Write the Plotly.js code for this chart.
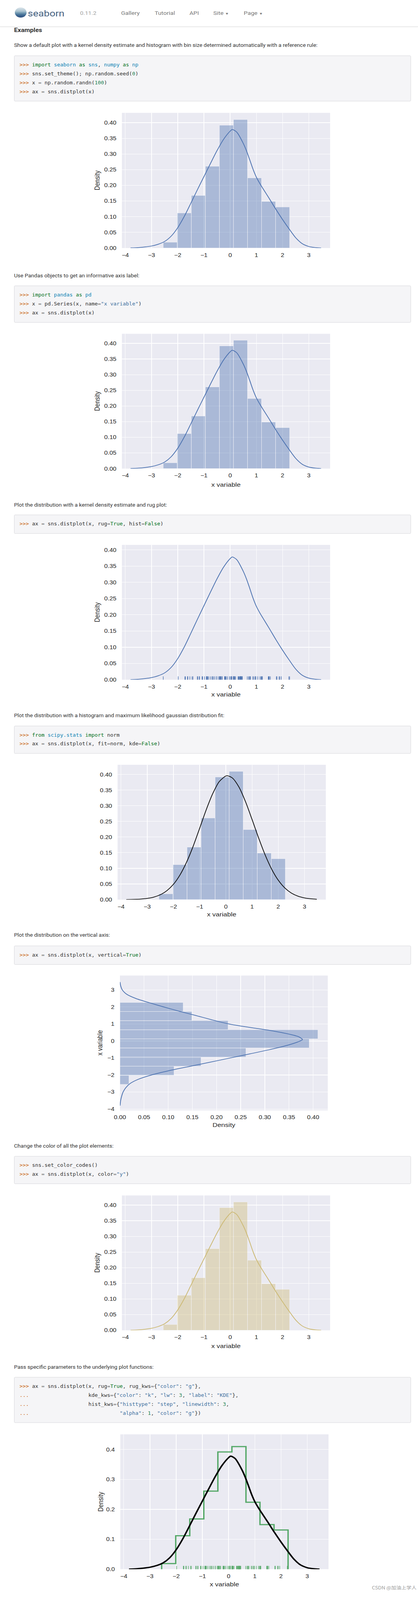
<!DOCTYPE html>
<html><head><meta charset="utf-8">
<script src="https://cdn.plot.ly/plotly-3.0.1.min.js"></script>
<style>
html,body{margin:0;background:#fff;overflow:hidden;}
#page{position:relative;width:1070px;height:4715px;overflow:hidden;font-family:Roboto,"Helvetica Neue",Arial,sans-serif;color:#333;background:#fff;transform-origin:0 0;}
.nav{position:absolute;left:0;top:0;width:1070px;height:78px;border-bottom:1px solid #d8d8d8;box-shadow:0 1px 3px rgba(0,0,0,0.18);background:#fff;z-index:2;}
.logo{position:absolute;left:38px;top:22px;width:30px;height:30px;border-radius:50%;background:linear-gradient(to bottom,#dde6ec 0%,#a9c2cf 38%,#6f97b0 55%,#3f6a93 75%,#2f4f7f 100%);}
.brand{position:absolute;left:71px;top:22px;font-size:26px;line-height:34px;color:#44607f;}
.ver{position:absolute;left:205px;top:28px;font-size:15px;line-height:22px;color:#a0a0a0;}
.nl{position:absolute;top:28px;font-size:15.5px;line-height:22px;color:#777;}
.h{position:absolute;left:36px;top:77px;font-size:16.5px;line-height:24px;font-weight:bold;color:#333;z-index:3;}
.p{position:absolute;left:36px;font-size:14px;line-height:20px;white-space:nowrap;color:#333;}
.code{position:absolute;left:36px;width:988px;padding:13.5px 13px;border:1px solid #d4d4d8;border-radius:3px;background:#f5f5f7;font-family:"DejaVu Sans Mono",monospace;font-size:13.3px;line-height:26.5px;white-space:pre;color:#333;}
.gp{color:#c65d09;} .kn{color:#007020;} .nn{color:#0e84b5;} .mi{color:#208050;} .s2{color:#4070a0;} .o{color:#666;} .kc{color:#007020;}
.plot{position:absolute;}
.wm{position:absolute;left:952px;top:4677px;font-family:"Noto Sans CJK SC","Noto Sans",sans-serif;font-size:13px;line-height:18px;color:#9a9a9a;white-space:nowrap;}
</style></head>
<body>
<div id="page">
  <div class="nav">
    <div class="logo"></div>
    <div class="brand">seaborn</div>
    <div class="ver">0.11.2</div>
    <div class="nl" style="left:310px">Gallery</div>
    <div class="nl" style="left:396px">Tutorial</div>
    <div class="nl" style="left:485px">API</div>
    <div class="nl" style="left:546px">Site <span style="font-size:10px">&#9660;</span></div>
    <div class="nl" style="left:624px">Page <span style="font-size:10px">&#9660;</span></div>
  </div>
  <div class="h">Examples</div>

  <div class="p" style="top:123px">Show a default plot with a kernel density estimate and histogram with bin size determined automatically with a reference rule:</div>
  <div class="code" style="top:164px"><span class="gp">&gt;&gt;&gt; </span><span class="kn">import</span> <span class="nn">seaborn</span> <span class="kn">as</span> <span class="nn">sns</span>, <span class="nn">numpy</span> <span class="kn">as</span> <span class="nn">np</span>
<span class="gp">&gt;&gt;&gt; </span>sns.set_theme(); np.random.seed(<span class="mi">0</span>)
<span class="gp">&gt;&gt;&gt; </span>x <span class="o">=</span> np.random.randn(<span class="mi">100</span>)
<span class="gp">&gt;&gt;&gt; </span>ax <span class="o">=</span> sns.distplot(x)</div>
  <div id="plot1" class="plot"></div>

  <div class="p" style="top:803px">Use Pandas objects to get an informative axis label:</div>
  <div class="code" style="top:843px"><span class="gp">&gt;&gt;&gt; </span><span class="kn">import</span> <span class="nn">pandas</span> <span class="kn">as</span> <span class="nn">pd</span>
<span class="gp">&gt;&gt;&gt; </span>x <span class="o">=</span> pd.Series(x, name<span class="o">=</span><span class="s2">"x variable"</span>)
<span class="gp">&gt;&gt;&gt; </span>ax <span class="o">=</span> sns.distplot(x)</div>
  <div id="plot2" class="plot"></div>

  <div class="p" style="top:1480px">Plot the distribution with a kernel density estimate and rug plot:</div>
  <div class="code" style="top:1519px"><span class="gp">&gt;&gt;&gt; </span>ax <span class="o">=</span> sns.distplot(x, rug<span class="o">=</span><span class="kc">True</span>, hist<span class="o">=</span><span class="kc">False</span>)</div>
  <div id="plot3" class="plot"></div>

  <div class="p" style="top:2102px">Plot the distribution with a histogram and maximum likelihood gaussian distribution fit:</div>
  <div class="code" style="top:2142px"><span class="gp">&gt;&gt;&gt; </span><span class="kn">from</span> <span class="nn">scipy.stats</span> <span class="kn">import</span> norm
<span class="gp">&gt;&gt;&gt; </span>ax <span class="o">=</span> sns.distplot(x, fit<span class="o">=</span>norm, kde<span class="o">=</span><span class="kc">False</span>)</div>
  <div id="plot4" class="plot"></div>

  <div class="p" style="top:2750px">Plot the distribution on the vertical axis:</div>
  <div class="code" style="top:2791px"><span class="gp">&gt;&gt;&gt; </span>ax <span class="o">=</span> sns.distplot(x, vertical<span class="o">=</span><span class="kc">True</span>)</div>
  <div id="plot5" class="plot"></div>

  <div class="p" style="top:3372px">Change the color of all the plot elements:</div>
  <div class="code" style="top:3412px"><span class="gp">&gt;&gt;&gt; </span>sns.set_color_codes()
<span class="gp">&gt;&gt;&gt; </span>ax <span class="o">=</span> sns.distplot(x, color<span class="o">=</span><span class="s2">"y"</span>)</div>
  <div id="plot6" class="plot"></div>

  <div class="p" style="top:4024px">Pass specific parameters to the underlying plot functions:</div>
  <div class="code" style="top:4064px"><span class="gp">&gt;&gt;&gt; </span>ax <span class="o">=</span> sns.distplot(x, rug<span class="o">=</span><span class="kc">True</span>, rug_kws<span class="o">=</span>{<span class="s2">"color"</span>: <span class="s2">"g"</span>},
<span class="gp">... </span>                  kde_kws<span class="o">=</span>{<span class="s2">"color"</span>: <span class="s2">"k"</span>, <span class="s2">"lw"</span>: <span class="mi">3</span>, <span class="s2">"label"</span>: <span class="s2">"KDE"</span>},
<span class="gp">... </span>                  hist_kws<span class="o">=</span>{<span class="s2">"histtype"</span>: <span class="s2">"step"</span>, <span class="s2">"linewidth"</span>: <span class="mi">3</span>,
<span class="gp">... </span>                            <span class="s2">"alpha"</span>: <span class="mi">1</span>, <span class="s2">"color"</span>: <span class="s2">"g"</span>})</div>
  <div id="plot7" class="plot"></div>

  <div class="wm">CSDN @加油上学人</div>
</div>

<script>
// ---------- data ----------
const binEdges = [-2.553, -2.017, -1.481, -0.945, -0.409, 0.127, 0.663, 1.198, 1.734, 2.270];
const histDensity = [0.0187, 0.112, 0.168, 0.261, 0.392, 0.410, 0.224, 0.149, 0.131];

const kdeX = [-3.8, -3.5, -3.25, -3.0, -2.75, -2.5, -2.25, -2.0, -1.75, -1.5, -1.25, -1.0, -0.75, -0.5, -0.25, 0.0, 0.08, 0.25, 0.5, 0.625, 0.75, 0.875, 1.0, 1.125, 1.25, 1.5, 1.75, 2.0, 2.25, 2.5, 2.75, 3.0, 3.25, 3.47];
const kdeY = [0.0003, 0.0015, 0.0035, 0.0065, 0.012, 0.021, 0.038, 0.065, 0.101, 0.143, 0.186, 0.228, 0.270, 0.311, 0.347, 0.373, 0.378, 0.370, 0.334, 0.310, 0.281, 0.251, 0.226, 0.207, 0.190, 0.157, 0.123, 0.091, 0.061, 0.033, 0.014, 0.005, 0.0015, 0.0002];

const fitX = [-3.8, -3.5, -3.25, -3.0, -2.75, -2.5, -2.25, -2.0, -1.75, -1.5, -1.25, -1.0, -0.75, -0.5, -0.25, 0.0, 0.06, 0.25, 0.5, 0.75, 1.0, 1.25, 1.5, 1.75, 2.0, 2.25, 2.5, 2.75, 3.0, 3.25, 3.47];
const fitY = [0.0003, 0.0008, 0.0018, 0.0039, 0.0081, 0.0157, 0.0287, 0.049, 0.079, 0.1195, 0.170, 0.228, 0.287, 0.339, 0.3775, 0.3951, 0.396, 0.3888, 0.3598, 0.3131, 0.2562, 0.1972, 0.1427, 0.0971, 0.0621, 0.0374, 0.0211, 0.0112, 0.0056, 0.0026, 0.0013];

const samples = [1.764, 0.400, 0.979, 2.241, 1.868, -0.977, 0.950, -0.151, -0.103, 0.411,
  0.144, 1.454, 0.761, 0.122, 0.444, 0.334, 1.494, -0.205, 0.313, -0.854,
  -2.553, 0.654, 0.864, -0.742, 2.270, -1.454, 0.046, -0.187, 1.533, 1.469,
  0.155, 0.378, -0.888, -1.981, -0.348, 0.156, 1.230, 1.202, -0.387, -0.302,
  -1.049, -1.420, -1.706, 1.951, -0.510, -0.438, -1.253, 0.777, -1.614, -0.213,
  -0.895, 0.387, -0.511, -1.181, -0.028, 0.428, 0.067, 0.302, -0.634, -0.363,
  -0.672, -0.360, -0.813, -1.726, 0.177, -0.402, -1.630, 0.463, -0.907, 0.052,
  0.729, 0.129, 1.139, -1.235, 0.402, -0.685, -0.871, -0.579, -0.312, 0.056,
  -1.165, 0.901, 0.466, -1.536, 1.488, 1.896, 1.179, -0.180, -1.071, 1.054,
  -0.403, 1.222, 0.208, 0.977, 0.356, 0.707, 0.011, 1.786, 0.127, 0.402];

const xTicks = [-4, -3, -2, -1, 0, 1, 2, 3];
const densityTicks = [0, 0.05, 0.10, 0.15, 0.20, 0.25, 0.30, 0.35, 0.40];
const densityTicks7 = [0, 0.1, 0.2, 0.3, 0.4];

// The photograph only covers about 4096 px of height, so the whole page is
// fitted into that height (horizontal geometry unchanged).
const FIT = Math.min(1, 4090 / 4715);
document.getElementById('page').style.transform = 'scaleY(' + FIT + ')';

// ---------- styles ----------
const BLUE = '#4C72B0', YEL = '#CCB974', GREEN = '#55A868';
const TICKFONT = {family: 'Liberation Sans, Arial, sans-serif', size: 16, color: '#262626'};
const TITLEFONT = {family: 'Liberation Sans, Arial, sans-serif', size: 17.5, color: '#262626'};

const binCenters = histDensity.map((_, i) => (binEdges[i] + binEdges[i + 1]) / 2);
const binWidths = histDensity.map((_, i) => binEdges[i + 1] - binEdges[i]);

function axis(range, tickvals, fmt, standoff) {
  return {range: range, tickvals: tickvals, tickformat: fmt, showgrid: true, gridcolor: '#ffffff',
    gridwidth: 1.3, zeroline: false, showline: false, ticks: '', tickfont: TICKFONT,
    ticklabelstandoff: standoff, fixedrange: true, automargin: false};
}

function bars(color, horizontal) {
  const t = {type: 'bar', width: binWidths, opacity: 0.4,
    marker: {color: color, line: {color: '#ffffff', width: 1}}, hoverinfo: 'skip'};
  if (horizontal) { t.orientation = 'h'; t.y = binCenters; t.x = histDensity; }
  else { t.x = binCenters; t.y = histDensity; }
  return t;
}
function line(xs, ys, color, width) {
  return {type: 'scatter', mode: 'lines', x: xs, y: ys, line: {color: color, width: width, shape: 'spline', smoothing: 0.8}, hoverinfo: 'skip'};
}
function rug(color) {
  return {type: 'scatter', mode: 'markers', x: samples, y: samples.map(() => 0.0105), yaxis: 'y2',
    marker: {symbol: 'line-ns-open', size: 8, color: color, line: {color: color, width: 1.4}}, hoverinfo: 'skip'};
}

function draw(id, area, xax, yax, traces, xTitle, yTitle, extra) {
  const ml = 90, mr = 20, mt = 12, mb = 70;
  const w = area.r - area.l, h = area.b - area.t;
  const div = document.getElementById(id);
  div.style.left = (area.l - ml) + 'px';
  div.style.top = (area.t - mt) + 'px';
  div.style.width = (w + ml + mr) + 'px';
  div.style.height = (h + mt + mb) + 'px';
  const ann = [];
  if (xTitle) ann.push({text: xTitle.text, xref: 'paper', yref: 'paper', x: 0.5, y: 0, xanchor: 'center', yanchor: 'middle',
    yshift: -(xTitle.y - area.b), showarrow: false, font: TITLEFONT});
  if (yTitle) ann.push({text: yTitle.text, xref: 'paper', yref: 'paper', x: 0, y: 0.5, xanchor: 'center', yanchor: 'middle',
    xshift: yTitle.x - area.l, textangle: -90, showarrow: false, font: TITLEFONT});
  const layout = Object.assign({
    width: w + ml + mr, height: h + mt + mb,
    margin: {l: ml, r: mr, t: mt, b: mb, pad: 0},
    paper_bgcolor: 'rgba(0,0,0,0)', plot_bgcolor: '#EAEAF2',
    showlegend: false, barmode: 'overlay', bargap: 0,
    xaxis: xax, yaxis: yax, annotations: ann
  }, extra || {});
  Plotly.newPlot(div, traces, layout, {staticPlot: true, displayModeBar: false});
}

const XR = [-4.131, 3.814];
const y2 = {yaxis2: {overlaying: 'y', range: [0, 1], visible: false, fixedrange: true}};

// 1
draw('plot1', {l: 312, r: 845, t: 333, b: 732},
  axis(XR, xTicks, '', 9), axis([0, 0.4314], densityTicks, '.2f', 13),
  [bars(BLUE), line(kdeX, kdeY, BLUE, 2)], null, {text: 'Density', x: 249});
// 2
draw('plot2', {l: 312, r: 845, t: 985, b: 1383},
  axis(XR, xTicks, '', 9), axis([0, 0.4306], densityTicks, '.2f', 13),
  [bars(BLUE), line(kdeX, kdeY, BLUE, 2)], {text: 'x variable', y: 1430}, {text: 'Density', x: 249});
// 3
draw('plot3', {l: 312, r: 845, t: 1608, b: 2006},
  axis(XR, xTicks, '', 9), axis([0, 0.4154], densityTicks, '.2f', 13),
  [line(kdeX, kdeY, BLUE, 2), rug(BLUE)], {text: 'x variable', y: 2050}, {text: 'Density', x: 249}, y2);
// 4
draw('plot4', {l: 301, r: 834, t: 2257, b: 2655},
  axis(XR, xTicks, '', 9), axis([0, 0.431], densityTicks, '.2f', 13),
  [bars(BLUE), line(fitX, fitY, '#111111', 2)], {text: 'x variable', y: 2698}, null);
// 5
draw('plot5', {l: 307, r: 839, t: 2879, b: 3277},
  axis([0, 0.4303], densityTicks, '.2f', 9), axis([-4.08, 3.85], xTicks, '', 13),
  [bars(BLUE, true), line(kdeY, kdeX, BLUE, 2)], {text: 'Density', y: 3320}, {text: 'x variable', x: 256});
// 6
draw('plot6', {l: 312, r: 845, t: 3528, b: 3926},
  axis(XR, xTicks, '', 9), axis([0, 0.4307], densityTicks, '.2f', 13),
  [bars(YEL), line(kdeX, kdeY, YEL, 2)], {text: 'x variable', y: 3972}, {text: 'Density', x: 249});
// 7
const stepX = [binEdges[0]].concat(binEdges.slice(0, 9), [binEdges[9]]);
const stepY = [0].concat(histDensity, [0]);
draw('plot7', {l: 308, r: 841, t: 4233, b: 4631},
  axis(XR, xTicks, '', 9), axis([0, 0.451], densityTicks7, '.1f', 13),
  [{type: 'scatter', mode: 'lines', x: stepX, y: stepY, line: {color: GREEN, width: 3.5, shape: 'hv'}, hoverinfo: 'skip'},
   line(kdeX, kdeY, '#000000', 4), rug(GREEN)],
  {text: 'x variable', y: 4675}, {text: 'Density', x: 258}, y2);
</script>
</body></html>
